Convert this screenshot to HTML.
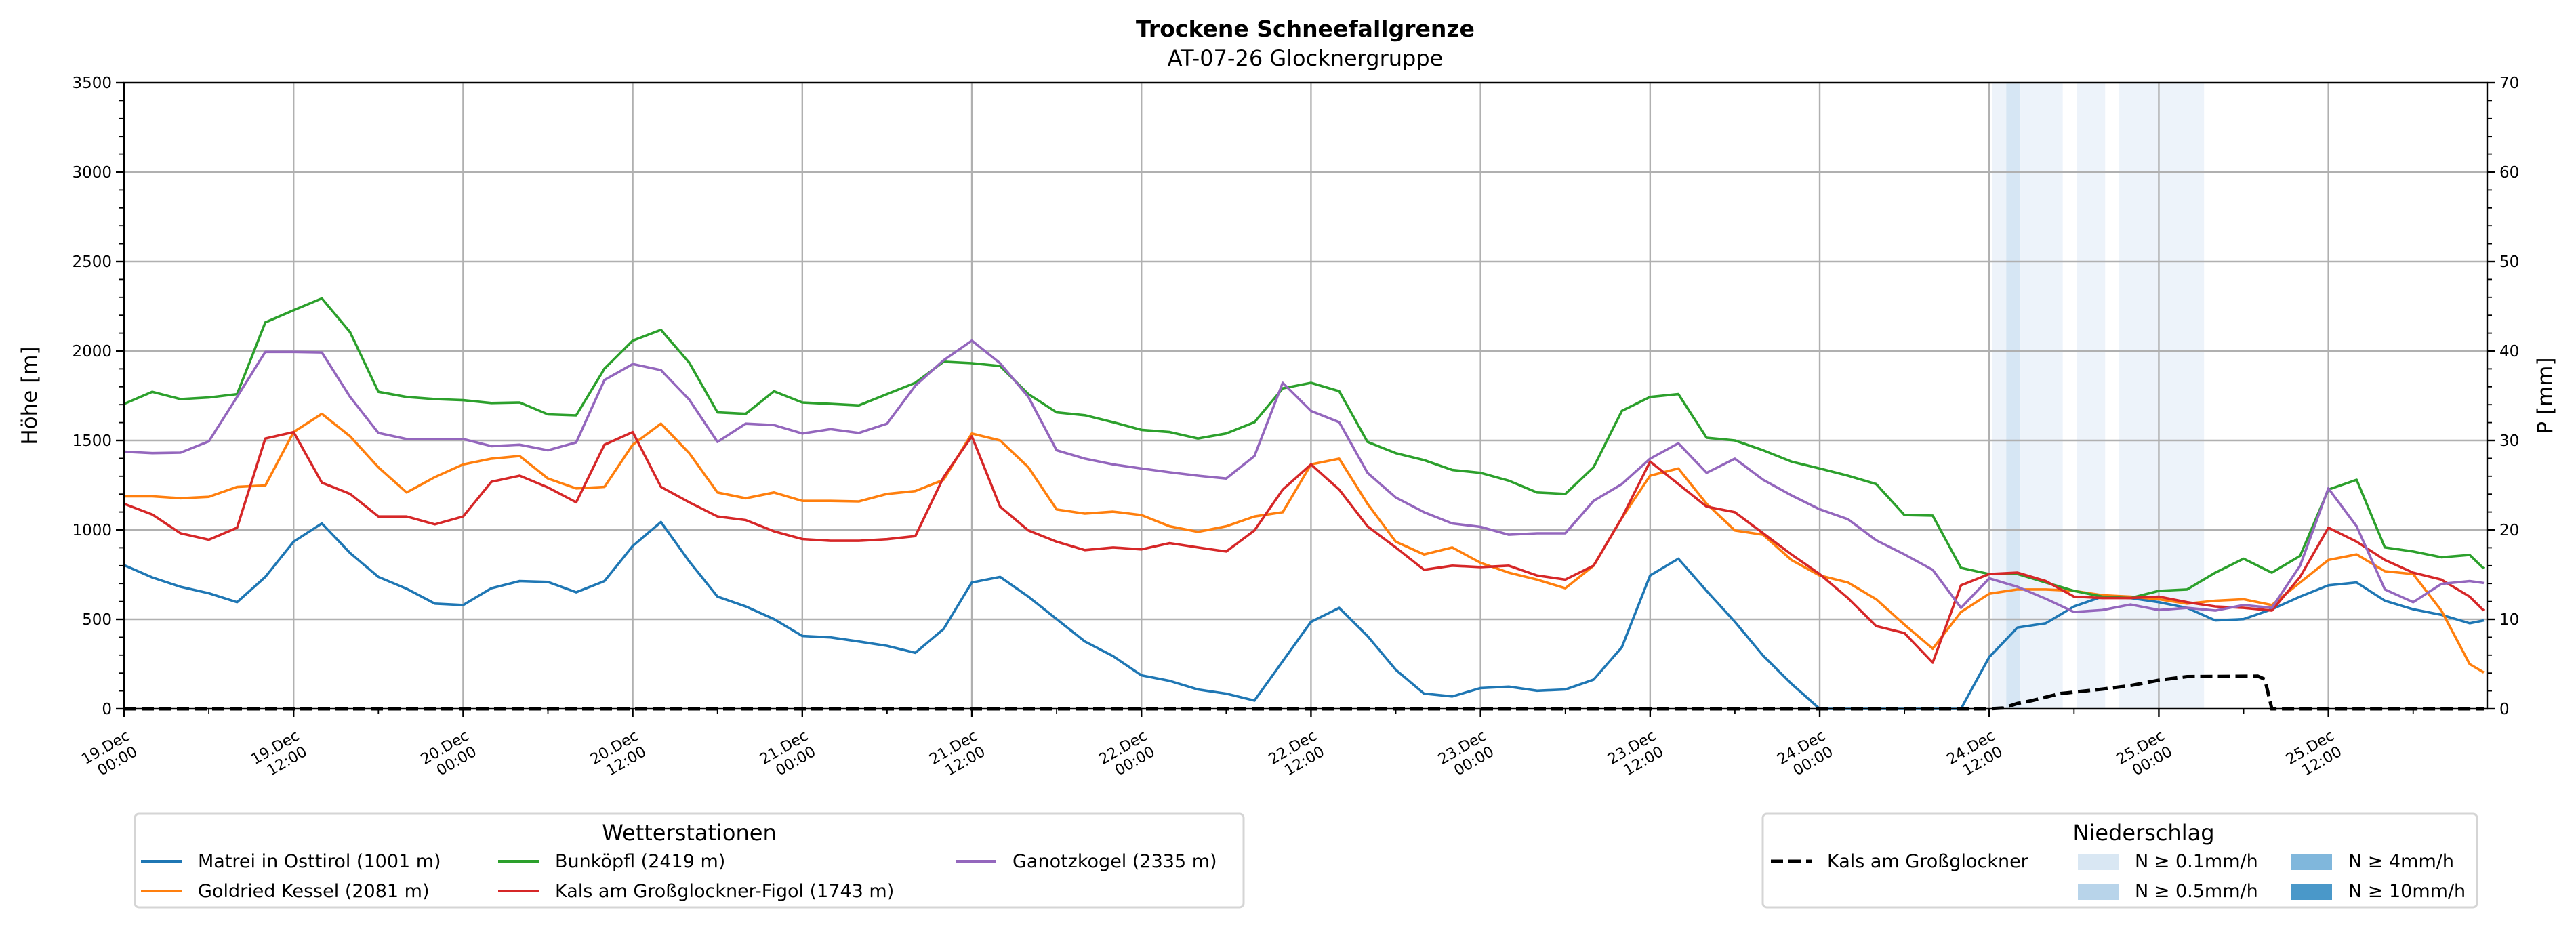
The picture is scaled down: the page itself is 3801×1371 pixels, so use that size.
<!DOCTYPE html>
<html><head><meta charset="utf-8">
<style>
html,body{margin:0;padding:0;background:#fff;}
svg{display:block;font-family:"DejaVu Sans","Liberation Sans",sans-serif;}
</style></head>
<body>
<svg id="chart" width="3801" height="1371" viewBox="0 0 3801 1371" xmlns="http://www.w3.org/2000/svg">
<text x="1926" y="54" font-size="33" font-weight="bold" text-anchor="middle">Trockene Schneefallgrenze</text>
<text x="1926" y="97" font-size="32" text-anchor="middle">AT-07-26 Glocknergruppe</text>
<g id="bands"></g>
<g id="grid"></g>
<g id="series"></g>
<g id="axes"></g>
<text transform="translate(54,584) rotate(-90)" font-size="31" text-anchor="middle">Höhe [m]</text>
<text transform="translate(3766,584) rotate(-90)" font-size="31" text-anchor="middle">P [mm]</text>

<g>
<rect x="199" y="1201" width="1636" height="138" rx="6" fill="#fff" stroke="#d5d5d5" stroke-width="3"/>
<text x="1017" y="1240" font-size="32" text-anchor="middle">Wetterstationen</text>
<g><line x1="208" y1="1271" x2="268" y2="1271" stroke="#1f77b4" stroke-width="4"/><text x="292" y="1280" font-size="27">Matrei in Osttirol (1001 m)</text></g>
<g><line x1="208" y1="1315" x2="268" y2="1315" stroke="#ff7f0e" stroke-width="4"/><text x="292" y="1324" font-size="27">Goldried Kessel (2081 m)</text></g>
<g><line x1="735" y1="1271" x2="795" y2="1271" stroke="#2ca02c" stroke-width="4"/><text x="819" y="1280" font-size="27">Bunköpfl (2419 m)</text></g>
<g><line x1="735" y1="1315" x2="795" y2="1315" stroke="#d62728" stroke-width="4"/><text x="819" y="1324" font-size="27">Kals am Großglockner-Figol (1743 m)</text></g>
<g><line x1="1410" y1="1271" x2="1470" y2="1271" stroke="#9467bd" stroke-width="4"/><text x="1494" y="1280" font-size="27">Ganotzkogel (2335 m)</text></g>
</g>

<g>
<rect x="2601" y="1201" width="1054" height="138" rx="6" fill="#fff" stroke="#d5d5d5" stroke-width="3"/>
<text x="3163" y="1240" font-size="32" text-anchor="middle">Niederschlag</text>
<g><line x1="2613" y1="1271" x2="2674" y2="1271" stroke="#000" stroke-width="5" stroke-dasharray="18,8"/><text x="2696" y="1280" font-size="27">Kals am Großglockner</text></g>
<g><rect x="3066" y="1260" width="60" height="24" fill="#d9e7f3"/><text x="3150" y="1280" font-size="27">N ≥ 0.1mm/h</text></g>
<g><rect x="3066" y="1304" width="60" height="24" fill="#b8d4ea"/><text x="3150" y="1324" font-size="27">N ≥ 0.5mm/h</text></g>
<g><rect x="3381" y="1260" width="60" height="24" fill="#80b7dc"/><text x="3465" y="1280" font-size="27">N ≥ 4mm/h</text></g>
<g><rect x="3381" y="1304" width="60" height="24" fill="#4a98c9"/><text x="3465" y="1324" font-size="27">N ≥ 10mm/h</text></g>
</g>
</svg>
<script>
const hours = [];
for (let h = 0; h <= 166; h += 2) hours.push(h);
hours.push(167);
const matrei = [803,734,682,646,596,737,934,1036,871,737,671,588,580,674,714,709,651,714,910,1044,824,627,
572,501,407,399,376,352,313,446,706,737,627,501,376,294,187,156,108,85,46,266,486,
564,407,218,85,69,116,124,101,108,163,344,745,839,659,486,297,140,0,0,0,0,0,
0,289,454,478,572,627,619,596,564,494,501,556,627,690,706,604,556,525,478,494];
const goldried = [1188,1188,1177,1185,1240,1248,1547,1649,1523,1350,1209,1295,1366,1398,1413,1287,1232,1240,1476,1594,1429,1209,
1177,1209,1162,1162,1159,1201,1217,1280,1539,1500,1350,1114,1091,1102,1083,1020,989,1020,1075,1099,1366,
1398,1146,934,863,902,816,761,722,674,800,1067,1303,1343,1146,997,973,832,745,706,612,470,336,
541,643,667,667,659,635,627,612,588,604,612,580,706,832,863,769,753,549,250,203];
const bunkoepfl = [1704,1772,1731,1740,1759,2160,2228,2294,2105,1772,1743,1731,1725,1709,1712,1646,1640,1901,2058,2118,1935,1657,
1649,1775,1712,1704,1696,1759,1822,1940,1932,1916,1759,1657,1641,1602,1559,1547,1511,1539,1602,1791,1822,
1775,1492,1429,1390,1335,1319,1275,1209,1201,1350,1665,1743,1759,1515,1500,1445,1382,1343,1303,1256,1083,1080,
788,753,753,706,659,627,619,659,667,761,839,761,855,1225,1280,902,879,847,860,784];
const kals = [1146,1086,981,945,1012,1511,1547,1264,1201,1075,1075,1031,1075,1269,1303,1237,1154,1476,1547,1240,1154,1075,
1055,992,949,939,939,948,965,1295,1523,1130,997,934,887,902,891,926,902,879,997,1225,1366,
1225,1020,902,777,800,792,800,745,722,800,1067,1382,1256,1130,1099,981,863,753,619,462,423,258,
690,753,761,714,627,619,619,627,596,572,564,549,737,1012,934,832,761,722,627,549];
const ganotz = [1437,1429,1432,1495,1743,1995,1995,1992,1743,1542,1508,1508,1508,1468,1476,1445,1489,1838,1927,1893,1728,1492,
1594,1586,1539,1563,1542,1594,1806,1948,2058,1932,1743,1445,1398,1366,1343,1322,1303,1287,1413,1822,1665,
1602,1319,1181,1099,1036,1017,973,981,981,1162,1256,1398,1484,1319,1398,1280,1193,1115,1060,942,863,777,
564,729,682,615,541,552,583,552,564,549,580,564,800,1232,1020,667,596,698,714,703];
const precipHours = [0,132,133,134,135,137,140,142,144,146,151,151.5,152,167];
const precipValues = [0,0,0.1,0.6,0.9,1.7,2.2,2.6,3.2,3.6,3.65,3.3,0,0];
const bandStart = [132.2,133.2,134.2,138.2,141.2];
const bandEnd = [133.2,134.2,137.2,140.2,147.2];
const bandLevel = [0,1,0,0,0];
const yTicks = [0,500,1000,1500,2000,2500,3000,3500];
const y2Ticks = [0,10,20,30,40,50,60,70];
const xTickHours = [0,12,24,36,48,60,72,84,96,108,120,132,144,156];
const xTickDays = ["19.Dec","19.Dec","20.Dec","20.Dec","21.Dec","21.Dec","22.Dec","22.Dec","23.Dec","23.Dec","24.Dec","24.Dec","25.Dec","25.Dec"];
const xTickTimes = ["00:00","12:00","00:00","12:00","00:00","12:00","00:00","12:00","00:00","12:00","00:00","12:00","00:00","12:00"];

const L=183,R=3670,T=122,B=1046,HMAX=167.24;
const x = h => L + h*(R-L)/HMAX;
const y = v => B - v*(B-T)/3500;
const y2 = p => B - p*(B-T)/70;
const NS="http://www.w3.org/2000/svg";
function mk(tag, attrs, parent){const e=document.createElementNS(NS,tag);for(const k in attrs)e.setAttribute(k,attrs[k]);parent.appendChild(e);return e;}

const bands=document.getElementById('bands');
const bandColors=['#edf3fa','#d6e6f4'];
for(let i=0;i<bandStart.length;i++){
  const r=mk('rect',{x:x(bandStart[i]),y:T,width:x(bandEnd[i])-x(bandStart[i]),height:B-T,fill:bandColors[bandLevel[i]]},bands);
  
  
}
const grid=document.getElementById('grid');
yTicks.forEach(v=>{const g=mk('line',{x1:L,x2:R,y1:y(v),y2:y(v),stroke:'#b0b0b0','stroke-width':2.4},grid);
  
  });
xTickHours.forEach(h=>{const g=mk('line',{x1:x(h),x2:x(h),y1:T,y2:B,stroke:'#b0b0b0','stroke-width':2.4},grid);
  
  });

const series=document.getElementById('series');
const defs=[[matrei,'#1f77b4','line-matrei'],[goldried,'#ff7f0e','line-goldried'],[bunkoepfl,'#2ca02c','line-bunkoepfl'],[kals,'#d62728','line-kals-figol'],[ganotz,'#9467bd','line-ganotzkogel']];
defs.forEach(([vals,col,name])=>{
  const d=vals.map((v,i)=>(i?'L':'M')+x(hours[i]).toFixed(1)+','+y(v).toFixed(1)).join(' ');
  const p=mk('path',{d:d,fill:'none',stroke:col,'stroke-width':3.6,'stroke-linejoin':'round'},series);
  
  
});
const pd=precipValues.map((v,i)=>(i?'L':'M')+x(precipHours[i]).toFixed(1)+','+y2(v).toFixed(1)).join(' ');
const pl=mk('path',{d:pd,fill:'none',stroke:'#000','stroke-width':5,'stroke-dasharray':'18,8'},series);



const axes=document.getElementById('axes');
const frame=mk('rect',{x:L,y:T,width:R-L,height:B-T,fill:'none',stroke:'#000','stroke-width':2.4},axes);


for(let v=0;v<=3500;v+=100){const big=v%500===0;mk('line',{x1:L-(big?12:7),x2:L,y1:y(v),y2:y(v),stroke:'#000','stroke-width':big?2.4:1.8},axes);}
for(let p=0;p<=70;p+=2){const big=p%10===0;mk('line',{x1:R,x2:R+(big?12:7),y1:y2(p),y2:y2(p),stroke:'#000','stroke-width':big?2.4:1.8},axes);}
for(let h=0;h<=HMAX;h+=6){const big=h%12===0;mk('line',{x1:x(h),x2:x(h),y1:B,y2:B+(big?12:7),stroke:'#000','stroke-width':big?2.4:1.8},axes);}
yTicks.forEach(v=>{const t=mk('text',{x:L-18,y:y(v)+8,'font-size':23,'text-anchor':'end'},axes);t.textContent=v;
  
  });
y2Ticks.forEach(p=>{const t=mk('text',{x:R+18,y:y2(p)+8,'font-size':23,'text-anchor':'start'},axes);t.textContent=p;
  
  });
xTickHours.forEach((h,i)=>{
  const t=mk('text',{transform:`translate(${x(h)+10},${B+44}) rotate(-30)`,'font-size':22,'text-anchor':'end'},axes);
  
  
  const a=mk('tspan',{x:0,dy:0},t);a.textContent=xTickDays[i];
  const b=mk('tspan',{x:-2,dy:26},t);b.textContent=xTickTimes[i];
});
</script>
</body></html>
